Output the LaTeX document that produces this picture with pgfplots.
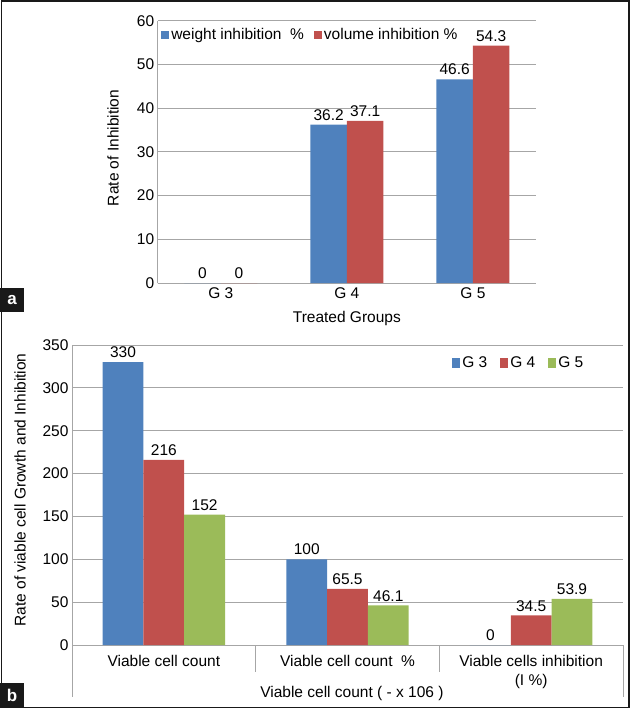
\documentclass[border=0pt]{standalone}
\usepackage{fontspec}
\setmainfont{Liberation Sans}
\usepackage{pgfplots}
\pgfplotsset{compat=1.18}

\definecolor{xblue}{HTML}{4F81BD}
\definecolor{xred}{HTML}{C0504D}
\definecolor{xgreen}{HTML}{9BBB59}
\definecolor{gridgray}{HTML}{A6A6A6}

\pgfplotsset{
  excel/.style={
    scale only axis, clip=false,
    axis x line*=bottom, axis y line*=left,
    axis line style={-, gridgray, line width=0.9pt},
    ymajorgrids, major grid style={gridgray, line width=0.9pt},
    major tick length=0pt, tick style={draw=none},
    /pgf/number format/assume math mode=true,
    ybar=0pt,
    nodes near coords,
    every node near coord/.append style={black, inner sep=4pt},
    legend style={draw=none, fill=none, inner sep=0pt, legend columns=-1,
      nodes={inner xsep=2pt}},
  },
}

\begin{document}
\begin{tikzpicture}[x=1pt, y=1pt, font=\fontsize{15.5}{18.5}\selectfont]
\useasboundingbox (0,0) rectangle (634,-709);
\draw[line width=1.8pt, black!90] (1.5,-1) rectangle (629,-707.5);

% panel a
\begin{axis}[excel,
    at={(157.7pt,-283pt)}, anchor=south west,
    width=378.3pt, height=262.3pt,
    ymin=0, ymax=60, ytick={0,10,...,60},
    xmin=-0.5, xmax=2.5, xtick={0,1,2},
    xticklabels={G 3,G 4,G 5},
    xticklabel style={yshift=-1pt},
    bar width=36.5pt,
    ylabel={Rate of Inhibition},
    ylabel style={at={(axis description cs:0,0.515)}, anchor=center, yshift=44.7pt},
    xlabel={Treated Groups},
    xlabel style={at={(axis description cs:0.5,0)}, anchor=center, yshift=-35pt},
    legend style={at={(0.009,0.945)}, anchor=west,
      /tikz/every even column/.append style={column sep=8pt}},
    legend image code/.code={\fill[#1] (0pt,-4pt) rectangle (8pt,4pt);},
]
\addplot[fill=xblue, draw=none] coordinates {(0,0) (1,36.2) (2,46.6)};
\addplot[fill=xred, draw=none] coordinates {(0,0) (1,37.1) (2,54.3)};
\legend{weight inhibition~ \%, volume inhibition \%}
\end{axis}

% panel b
\begin{axis}[excel,
    at={(72pt,-645pt)}, anchor=south west,
    width=551pt, height=300pt,
    ymin=0, ymax=350, ytick={0,50,...,350},
    xmin=-0.5, xmax=2.5, xtick={0,1,2},
    xticklabels={Viable cell count, Viable cell count~ \%, {Viable cells inhibition\\(I \%)}},
    xticklabel style={align=center, anchor=north, yshift=-7pt},
    bar width=40.8pt,
    ylabel={Rate of viable cell Growth and Inhibition},
    ylabel style={at={(axis description cs:0,0.517)}, anchor=center, yshift=52pt},
    xlabel={Viable cell count ( - x 106 )},
    xlabel style={at={(axis description cs:0.508,0)}, anchor=center, yshift=-48pt},
    legend style={at={(0.69,0.94)}, anchor=west,
      /tikz/every even column/.append style={column sep=11pt}},
    legend image code/.code={\fill[#1] (0pt,-5pt) rectangle (8pt,5pt);},
]
\addplot[fill=xblue, draw=none] coordinates {(0,330) (1,100) (2,0)};
\addplot[fill=xred, draw=none] coordinates {(0,216) (1,65.5) (2,34.5)};
\addplot[fill=xgreen, draw=none] coordinates {(0,152) (1,46.1) (2,53.9)};
\legend{G 3, G 4, G 5}
\draw[gridgray, line width=0.9pt] (rel axis cs:0,0) -- ++(0pt,-52pt);
\draw[gridgray, line width=0.9pt] (rel axis cs:1,0) -- ++(0pt,-52pt);
\draw[gridgray, line width=0.9pt] (rel axis cs:0.3333,0) -- ++(0pt,-27pt);
\draw[gridgray, line width=0.9pt] (rel axis cs:0.6667,0) -- ++(0pt,-27pt);
\end{axis}

% panel tags
\fill[black!90] (0,-288) rectangle (24,-312);
\node[white, font=\fontsize{17}{20}\selectfont\bfseries] at (12,-300) {a};
\fill[black!90] (0,-683) rectangle (24,-707.5);
\node[white, font=\fontsize{17}{20}\selectfont\bfseries] at (12,-695) {b};
\end{tikzpicture}
\end{document}
